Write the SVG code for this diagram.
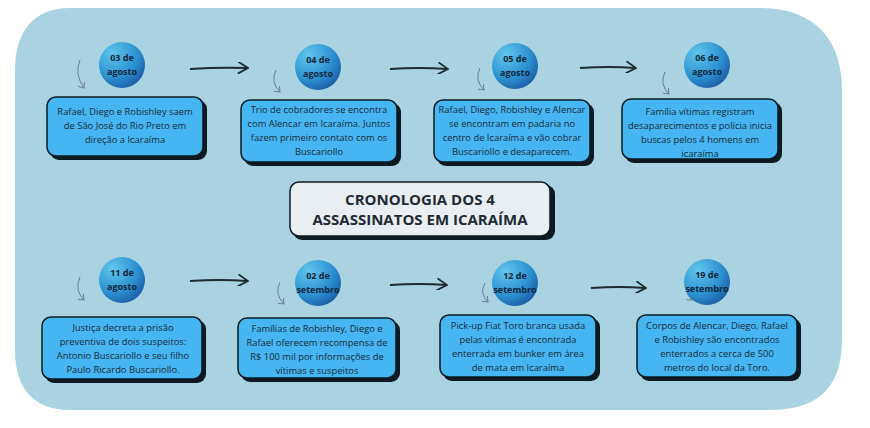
<svg xmlns="http://www.w3.org/2000/svg" width="870" height="428" viewBox="0 0 870 428">
<defs>
<radialGradient id="cg" cx="0.3" cy="0.25" r="0.9"><stop offset="0" stop-color="#5fc6ec"/><stop offset="0.6" stop-color="#2a8fcf"/><stop offset="1" stop-color="#1a4f9a"/></radialGradient>
<marker id="ah" markerWidth="12" markerHeight="12" refX="10" refY="6" orient="auto" markerUnits="userSpaceOnUse"><path d="M1,0 L11,6 L1,12" fill="none" stroke="#1e2a30" stroke-width="1.8"/></marker>
<marker id="sa" markerWidth="8" markerHeight="8" refX="5" refY="4" orient="auto" markerUnits="userSpaceOnUse"><path d="M0,0 L5,4 L0,8" fill="none" stroke="#6a7f88" stroke-width="1"/></marker>
</defs>
<style>
.box{fill:#45b6f2;stroke:#0d1a22;stroke-width:1.5}
.sh{fill:#0d1a22}
.bt{font-family:"Open Sans","Liberation Sans",sans-serif;font-size:9.4px;fill:#1a2a36;text-anchor:middle}
.dt{font-family:"Open Sans","Liberation Sans",sans-serif;font-size:9px;font-weight:bold;fill:#10263a;text-anchor:middle}
.ar{stroke:#1e2a30;stroke-width:2;fill:none;marker-end:url(#ah)}
.sm{stroke:#6a7f88;stroke-width:1;fill:none;marker-end:url(#sa)}
</style>
<rect width="870" height="428" fill="#ffffff"/>
<path d="M70,8 H760 C815,8 842,40 842,90 V340 C842,390 815,410 770,410 H70 C35,410 15,390 15,350 V70 C15,30 35,8 70,8 Z" fill="#a9d3e0"/>
<g id="connectors">
<path class="ar" d="M190,69 Q220,67 247,68"/>
<path class="ar" d="M390,69 Q420,67 447,69"/>
<path class="ar" d="M580,68 Q610,66 635,68"/>
<path class="ar" d="M190,281 Q220,279 247,281"/>
<path class="ar" d="M390,285 Q420,283 446,285"/>
<path class="ar" d="M591,288 Q620,286 645,288"/>
<path class="sm" d="M80,60 Q74,74 84,88"/>
<path class="sm" d="M276,70 Q270,82 280,92"/>
<path class="sm" d="M480,68 Q474,80 484,90"/>
<path class="sm" d="M665,72 Q659,84 669,94"/>
<path class="sm" d="M80,277 Q74,290 84,300"/>
<path class="sm" d="M280,282 Q274,294 284,304"/>
<path class="sm" d="M485,283 Q479,293 488,302"/>
<path class="sm" d="M689,282 Q683,292 692,300"/>
</g>
<g id="title">
<rect x="293" y="185" width="262" height="55" rx="9" class="sh"/>
<rect x="290" y="182" width="260" height="54" rx="9" fill="#e8eef1" stroke="#0d1a22" stroke-width="1.5"/>
<text x="420" y="205" font-family="'Open Sans','Liberation Sans',sans-serif" font-size="15" font-weight="bold" fill="#1f2a33" text-anchor="middle">CRONOLOGIA DOS 4</text>
<text x="420" y="225" font-family="'Open Sans','Liberation Sans',sans-serif" font-size="15" font-weight="bold" fill="#1f2a33" text-anchor="middle">ASSASSINATOS EM ICARAÍMA</text>
</g>
<g id="n1"><circle cx="122" cy="65" r="23" fill="url(#cg)"/><text class="dt" x="122" y="61">03 de</text><text class="dt" x="122" y="75">agosto</text>
<rect x="50" y="100" width="157" height="60" rx="9" class="sh"/><rect x="47" y="97" width="156" height="59" rx="9" class="box"/>
<text class="bt" x="125" y="115">Rafael, Diego e Robishley saem</text><text class="bt" x="125" y="129">de São José do Rio Preto em</text><text class="bt" x="125" y="143">direção a Icaraíma</text></g>
<g id="n2"><circle cx="318" cy="67" r="23" fill="url(#cg)"/><text class="dt" x="318" y="63">04 de</text><text class="dt" x="318" y="77">agosto</text>
<rect x="244" y="103" width="157" height="63" rx="9" class="sh"/><rect x="241" y="100" width="156" height="62" rx="9" class="box"/>
<text class="bt" x="319" y="113">Trio de cobradores se encontra</text><text class="bt" x="319" y="127">com Alencar em Icaraíma. Juntos</text><text class="bt" x="319" y="141">fazem primeiro contato com os</text><text class="bt" x="319" y="155">Buscariollo</text></g>
<g id="n3"><circle cx="515" cy="66" r="23" fill="url(#cg)"/><text class="dt" x="515" y="62">05 de</text><text class="dt" x="515" y="76">agosto</text>
<rect x="437" y="103" width="157" height="63" rx="9" class="sh"/><rect x="434" y="100" width="156" height="62" rx="9" class="box"/>
<text class="bt" x="512" y="113">Rafael, Diego, Robishley e Alencar</text><text class="bt" x="512" y="127">se encontram em padaria no</text><text class="bt" x="512" y="141">centro de Icaraíma e vão cobrar</text><text class="bt" x="512" y="155">Buscariollo e desaparecem.</text></g>
<g id="n4"><circle cx="707" cy="65" r="23" fill="url(#cg)"/><text class="dt" x="707" y="61">06 de</text><text class="dt" x="707" y="75">agosto</text>
<rect x="625" y="102" width="157" height="61" rx="9" class="sh"/><rect x="622" y="99" width="156" height="60" rx="9" class="box"/>
<text class="bt" x="700" y="115">Família vítimas registram</text><text class="bt" x="700" y="129">desaparecimentos e polícia inicia</text><text class="bt" x="700" y="143">buscas pelos 4 homens em</text><text class="bt" x="700" y="157">icaraíma</text></g>
<g id="n5"><circle cx="122" cy="280" r="23" fill="url(#cg)"/><text class="dt" x="122" y="276">11 de</text><text class="dt" x="122" y="290">agosto</text>
<rect x="45" y="320" width="161" height="63" rx="9" class="sh"/><rect x="42" y="317" width="160" height="62" rx="9" class="box"/>
<text class="bt" x="123" y="331">Justiça decreta a prisão</text><text class="bt" x="123" y="345">preventiva de dois suspeitos:</text><text class="bt" x="123" y="359">Antonio Buscariollo e seu filho</text><text class="bt" x="123" y="373">Paulo Ricardo Buscariollo.</text></g>
<g id="n6"><circle cx="318" cy="283" r="23" fill="url(#cg)"/><text class="dt" x="318" y="279">02 de</text><text class="dt" x="318" y="293">setembro</text>
<rect x="241" y="321" width="159" height="61" rx="9" class="sh"/><rect x="238" y="318" width="158" height="60" rx="9" class="box"/>
<text class="bt" x="317" y="332">Famílias de Robishley, Diego e</text><text class="bt" x="317" y="346">Rafael oferecem recompensa de</text><text class="bt" x="317" y="360">R$ 100 mil por informações de</text><text class="bt" x="317" y="374">vítimas e suspeitos</text></g>
<g id="n7"><circle cx="515" cy="283" r="23" fill="url(#cg)"/><text class="dt" x="515" y="279">12 de</text><text class="dt" x="515" y="293">setembro</text>
<rect x="443" y="318" width="157" height="63" rx="9" class="sh"/><rect x="440" y="315" width="156" height="62" rx="9" class="box"/>
<text class="bt" x="518" y="329">Pick-up Fiat Toro branca usada</text><text class="bt" x="518" y="343">pelas vítimas é encontrada</text><text class="bt" x="518" y="357">enterrada em bunker em área</text><text class="bt" x="518" y="371">de mata em Icaraíma</text></g>
<g id="n8"><circle cx="707" cy="282" r="23" fill="url(#cg)"/><text class="dt" x="707" y="278">19 de</text><text class="dt" x="707" y="292">setembro</text>
<rect x="640" y="318" width="161" height="63" rx="9" class="sh"/><rect x="637" y="315" width="160" height="62" rx="9" class="box"/>
<text class="bt" x="717" y="329">Corpos de Alencar, Diego, Rafael</text><text class="bt" x="717" y="343">e Robishley são encontrados</text><text class="bt" x="717" y="357">enterrados a cerca de 500</text><text class="bt" x="717" y="371">metros do local da Toro.</text></g>
</svg>
